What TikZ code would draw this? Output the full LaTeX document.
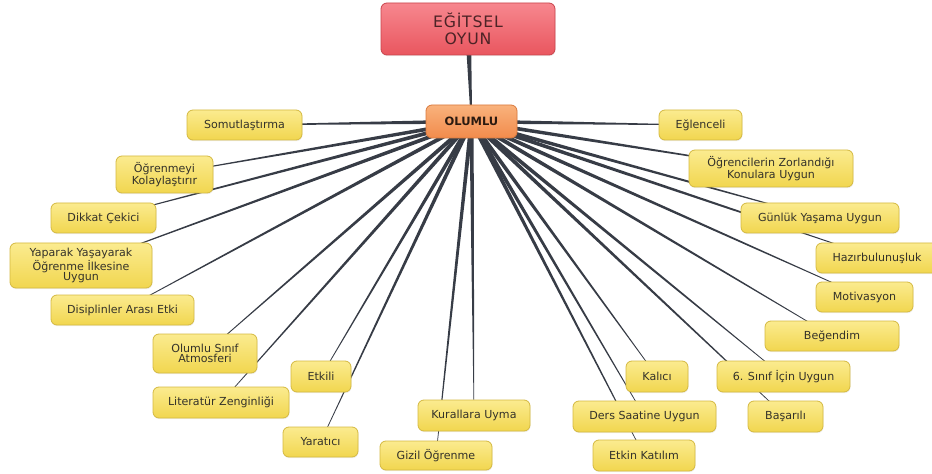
\documentclass[tikz,border=0pt]{standalone}
\usepackage{fontspec}
\newfontfamily\mmfont{DejaVu Sans}
\usetikzlibrary{calc,shadows}

\definecolor{linkcol}{HTML}{373C46}
\definecolor{leaftop}{HTML}{FBEB8F}
\definecolor{leafbot}{HTML}{F1D64F}
\definecolor{leafedge}{HTML}{D4B941}
\definecolor{leaftext}{HTML}{34322A}
\definecolor{roottop}{HTML}{F7878E}
\definecolor{rootbot}{HTML}{E9565F}
\definecolor{rootedge}{HTML}{C9444C}
\definecolor{roottext}{HTML}{4D2326}
\definecolor{midtop}{HTML}{F9B27C}
\definecolor{midbot}{HTML}{F28B4C}
\definecolor{midedge}{HTML}{D97A3E}
\definecolor{midtext}{HTML}{2B1A10}

\pgfdeclarelayer{links}
\pgfsetlayers{links,main}

\tikzset{
  mmbox/.style={rounded corners=4.5pt, inner sep=0pt, align=center,
    drop shadow={opacity=0.12, shadow xshift=0.4pt, shadow yshift=-0.9pt}},
  leafbox/.style={mmbox, draw=leafedge, line width=0.6pt,
    top color=leaftop, bottom color=leafbot, text=leaftext,
    font=\mmfont\fontsize{8.3}{7.8}\selectfont},
  rootbox/.style={mmbox, draw=rootedge, line width=0.6pt,
    top color=roottop, bottom color=rootbot, text=roottext,
    font=\mmfont\addfontfeature{LetterSpace=5}\fontsize{11.8}{12.6}\selectfont},
  midbox/.style={mmbox, draw=midedge, line width=0.6pt,
    top color=midtop, bottom color=midbot, text=midtext,
    font=\mmfont\bfseries\fontsize{8.6}{9}\selectfont},
}

% box from its corners (x1,y1)-(x2,y2), in pixel units
\newcommand{\mmnode}[7]{%
  \node[#1, minimum width={(#5-#3)*0.75pt}, minimum height={(#6-#4)*0.75pt}]
    (#2) at ({(#3+#5)/2},{(#4+#6)/2}) {#7};}

% tapered link: wide at the parent, thin at the child
\newcommand{\mmlink}[4]{%
  \fill[linkcol] ($(#1)!#3!90:(#2)$) -- ($(#2)!#4!-90:(#1)$)
    -- ($(#2)!#4!90:(#1)$) -- ($(#1)!#3!-90:(#2)$) -- cycle;}

\begin{document}
\begin{tikzpicture}[x=0.75pt,y=-0.75pt]
\useasboundingbox (0,0) rectangle (932,474);

% central topics
\mmnode{rootbox}{egitsel}{381}{3}{555}{55}{EĞİTSEL\\OYUN}
\mmnode{midbox}{olumlu}{426}{105}{517}{138}{OLUMLU}

% left branch
\mmnode{leafbox}{som}{187}{110}{302}{140}{Somutlaştırma}
\mmnode{leafbox}{ogrk}{116}{156}{213}{193}{Öğrenmeyi\\Kolaylaştırır}
\mmnode{leafbox}{dikkat}{51}{203}{156}{233}{Dikkat Çekici}
\mmnode{leafbox}{yaparak}{10}{243}{152}{288}{Yaparak Yaşayarak\\Öğrenme İlkesine\\Uygun}
\mmnode{leafbox}{disip}{51}{295}{194}{325}{Disiplinler Arası Etki}
\mmnode{leafbox}{atmos}{153}{334}{257}{373}{Olumlu Sınıf\\Atmosferi}
\mmnode{leafbox}{lit}{153}{387}{289}{418}{Literatür Zenginliği}
\mmnode{leafbox}{etkili}{291}{361}{351}{392}{Etkili}
\mmnode{leafbox}{yarat}{283}{427}{358}{457}{Yaratıcı}
\mmnode{leafbox}{kural}{418}{400}{530}{431}{Kurallara Uyma}
\mmnode{leafbox}{gizil}{380}{441}{492}{470}{Gizil Öğrenme}

% right branch
\mmnode{leafbox}{kalici}{626}{361}{688}{392}{Kalıcı}
\mmnode{leafbox}{ders}{573}{401}{716}{432}{Ders Saatine Uygun}
\mmnode{leafbox}{etkin}{593}{440}{695}{471}{Etkin Katılım}
\mmnode{leafbox}{sinif}{717}{361}{850}{392}{6. Sınıf İçin Uygun}
\mmnode{leafbox}{basari}{748}{401}{823}{432}{Başarılı}
\mmnode{leafbox}{begen}{765}{321}{899}{351}{Beğendim}
\mmnode{leafbox}{motiv}{816}{282}{913}{312}{Motivasyon}
\mmnode{leafbox}{hazir}{816}{243}{938}{273}{Hazırbulunuşluk}
\mmnode{leafbox}{gunluk}{741}{203}{899}{233}{Günlük Yaşama Uygun}
\mmnode{leafbox}{ogrz}{689}{150}{853}{187}{Öğrencilerin Zorlandığı\\Konulara Uygun}
\mmnode{leafbox}{eglen}{659}{110}{742}{140}{Eğlenceli}

\begin{pgfonlayer}{links}
  \mmlink{egitsel}{olumlu}{2.2pt}{0.5pt}
  \foreach \leaf in {som,ogrk,dikkat,yaparak,disip,atmos,lit,etkili,yarat,
                     kural,gizil,kalici,ders,etkin,sinif,basari,begen,motiv,
                     hazir,gunluk,ogrz,eglen}
    {\mmlink{olumlu}{\leaf}{1.6pt}{0.2pt}}
\end{pgfonlayer}
\end{tikzpicture}
\end{document}
